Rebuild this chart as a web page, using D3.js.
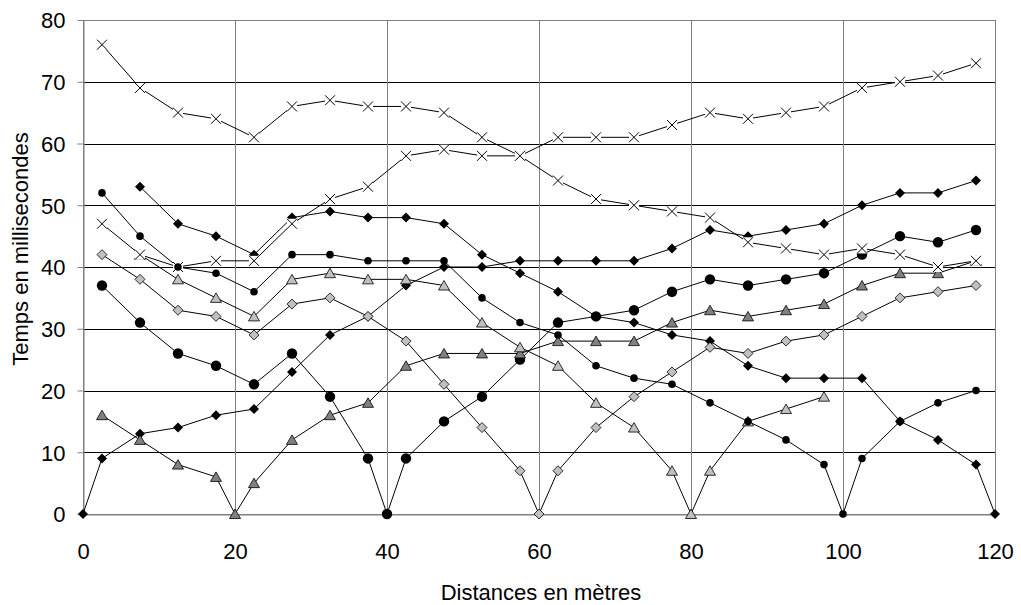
<!DOCTYPE html>
<html>
<head>
<meta charset="utf-8">
<script src="https://cdn.jsdelivr.net/npm/d3@7"></script>
<style>
  body { margin: 0; background: #fff; }
  svg { display: block; }
  text { font-family: "Liberation Sans", Arial, sans-serif; fill: #000; }
</style>
</head>
<body>
<svg id="chart" width="1021" height="605"></svg>
<script>
// distances (m) where the times were measured
var distances = [2.5, 7.5, 12.5, 17.5, 22.5, 27.5, 32.5, 37.5, 42.5, 47.5, 52.5, 57.5,
                 62.5, 67.5, 72.5, 77.5, 82.5, 87.5, 92.5, 97.5, 102.5, 107.5, 112.5, 117.5];

// times in ms, one value per distance (null = no point)
var diamondUp   = [9, 13, 14, 16, 17, 23, 29, 32, 37, 40, 40, 41, 41, 41, 41, 43, 46, 45, 46, 47, 50, 52, 52, 54];
var diamondDown = [null, 53, 47, 45, 42, 48, 49, 48, 48, 47, 42, 39, 36, 32, 31, 29, 28, 24, 22, 22, 22, 15, 12, 8];
var bigDot      = [37, 31, 26, 24, 21, 26, 19, 9, 9, 15, 19, 25, 31, 32, 33, 36, 38, 37, 38, 39, 42, 45, 44, 46];
var darkTri     = [16, 12, 8, 6, 5, 12, 16, 18, 24, 26, 26, 26, 28, 28, 28, 31, 33, 32, 33, 34, 37, 39, 39, 41];
var lightTri    = [null, 42, 38, 35, 32, 38, 39, 38, 38, 37, 31, 27, 24, 18, 14, 7, 7, 15, 17, 19, null, null, null, null];
var lightDiam   = [42, 38, 33, 32, 29, 34, 35, 32, 28, 21, 14, 7, 7, 14, 19, 23, 27, 26, 28, 29, 32, 35, 36, 37];
var crossA      = [76, 69, 65, 64, 61, 66, 67, 66, 66, 65, 61, 58, 54, 51, 50, 49, 48, 44, 43, 42, 43, 42, 40, 41];
var crossB      = [47, 42, 40, 41, 41, 47, 51, 53, 58, 59, 58, 58, 61, 61, 61, 63, 65, 64, 65, 66, 69, 70, 71, 73];
var smallDot    = [52, 45, 40, 39, 36, 42, 42, 41, 41, 41, 35, 31, 29, 24, 22, 21, 18, 15, 12, 8, 9, 15, 18, 20];

// distance where each series touches 0 ms
var zeroAt = { diamondUp: 0, diamondDown: 120, bigDot: 40, darkTri: 20, lightTri: 80, lightDiam: 60, smallDot: 100 };

var xTicks = [0, 20, 40, 60, 80, 100, 120];
var yTicks = [0, 10, 20, 30, 40, 50, 60, 70, 80];

var series = [
  { name: "diamondUp",   values: diamondUp,   marker: "diamond",  fill: "#000" },
  { name: "diamondDown", values: diamondDown, marker: "diamond",  fill: "#000" },
  { name: "bigDot",      values: bigDot,      marker: "bigdot",   fill: "#000" },
  { name: "darkTri",     values: darkTri,     marker: "triangle", fill: "#808080" },
  { name: "lightTri",    values: lightTri,    marker: "triangle", fill: "#c0c0c0" },
  { name: "lightDiam",   values: lightDiam,   marker: "diamond",  fill: "#c0c0c0" },
  { name: "crossA",      values: crossA,      marker: "cross",    fill: "#fff" },
  { name: "crossB",      values: crossB,      marker: "cross",    fill: "#fff" },
  { name: "smallDot",    values: smallDot,    marker: "smalldot", fill: "#000" }
];

var svg = d3.select("#chart");
var pLeft = 83, pRight = 995, pTop = 20, pBottom = 514;

var x = d3.scaleLinear().domain([0, 120]).range([pLeft, pRight]);
var y = d3.scaleLinear().domain([0, 80]).range([pBottom, pTop]);

// grid
svg.append("g").selectAll("line")
  .data(yTicks.filter(function(d) { return d > 0 && d < 80; }))
  .enter().append("line")
    .attr("x1", pLeft).attr("x2", pRight)
    .attr("y1", function(d) { return Math.round(y(d)) + 0.5; })
    .attr("y2", function(d) { return Math.round(y(d)) + 0.5; })
    .style("stroke", "#000");

svg.append("g").selectAll("line")
  .data(xTicks.filter(function(d) { return d > 0 && d < 120; }))
  .enter().append("line")
    .attr("y1", pTop).attr("y2", pBottom)
    .attr("x1", function(d) { return Math.round(x(d)) + 0.5; })
    .attr("x2", function(d) { return Math.round(x(d)) + 0.5; })
    .style("stroke", "#808080");

svg.append("rect")
  .attr("x", pLeft + 0.5).attr("y", pTop + 0.5)
  .attr("width", pRight - pLeft).attr("height", pBottom - pTop)
  .style("fill", "none").style("stroke", "#808080");

// axes
var yAxis = svg.append("g")
  .attr("transform", "translate(" + (pLeft + 0.5) + ",0)")
  .call(d3.axisLeft(y).tickValues(yTicks).tickSize(6).tickSizeOuter(0).tickPadding(12));
var xAxis = svg.append("g")
  .attr("transform", "translate(0," + (pBottom + 0.5) + ")")
  .call(d3.axisBottom(x).tickValues(xTicks).tickSize(0).tickSizeOuter(0).tickPadding(29));

[yAxis, xAxis].forEach(function(a) {
  a.select(".domain").style("stroke", "#808080");
  a.selectAll(".tick line").style("stroke", "#808080");
  a.selectAll("text").style("font-size", "22px").style("font-family", "'Liberation Sans', Arial, sans-serif");
});
yAxis.selectAll("text").attr("dy", "0.36em");

svg.append("text")
  .attr("transform", "translate(28,249) rotate(-90)")
  .attr("text-anchor", "middle")
  .style("font-size", "22px")
  .text("Temps en millisecondes");

svg.append("text")
  .attr("x", 541).attr("y", 600)
  .attr("text-anchor", "middle")
  .style("font-size", "22px")
  .text("Distances en mètres");

// build point lists
series.forEach(function(s) {
  var pts = [];
  s.values.forEach(function(v, i) {
    if (v !== null) pts.push({ d: distances[i], v: v });
  });
  if (zeroAt[s.name] !== undefined) pts.push({ d: zeroAt[s.name], v: 0 });
  pts.sort(function(a, b) { return a.d - b.d; });
  s.points = pts;
});

var line = d3.line()
  .x(function(p) { return x(p.d); })
  .y(function(p) { return y(p.v); });

svg.append("g").selectAll("path")
  .data(series)
  .enter().append("path")
    .attr("d", function(s) { return line(s.points); })
    .style("fill", "none")
    .style("stroke", "#000")
    .style("stroke-width", 1);

var shapes = {
  diamond: "M0,-5L5,0L0,5L-5,0Z",
  triangle: "M0,-5L5.5,4.5L-5.5,4.5Z",
  bigdot: d3.symbol().type(d3.symbolCircle).size(85)(),
  smalldot: d3.symbol().type(d3.symbolCircle).size(45)()
};

series.forEach(function(s) {
  var g = svg.append("g").attr("class", "markers " + s.name);
  var m = g.selectAll("g")
    .data(s.points)
    .enter().append("g")
      .attr("transform", function(p) { return "translate(" + x(p.d) + "," + y(p.v) + ")"; });

  if (s.marker == "cross") {
    m.append("rect")
      .attr("x", -5).attr("y", -5).attr("width", 10).attr("height", 10)
      .style("fill", "#fff");
    m.append("path")
      .attr("d", "M-5,-5L5,5M-5,5L5,-5")
      .style("stroke", "#000").style("stroke-width", 1);
  } else {
    m.append("path")
      .attr("d", shapes[s.marker])
      .style("fill", s.fill)
      .style("stroke", "#000")
      .style("stroke-width", s.fill == "#000" ? 0 : 0.8);
  }
});
</script>
</body>
</html>
